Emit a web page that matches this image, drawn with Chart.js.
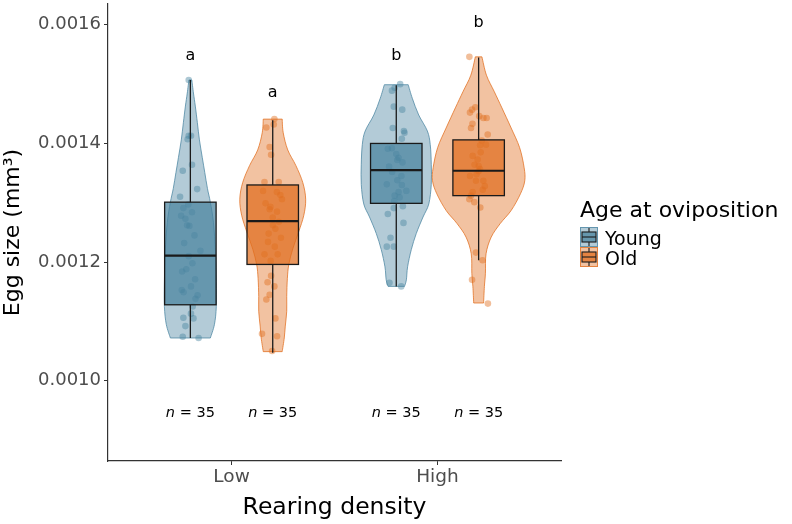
<!DOCTYPE html>
<html>
<head>
<meta charset="utf-8">
<script src="https://cdn.jsdelivr.net/npm/chart.js@4.4.1/dist/chart.umd.min.js"></script>
<style>
  html, body { margin: 0; padding: 0; background: #fff; }
</style>
</head>
<body>
<canvas id="chart" width="792" height="524"></canvas>
<script>
// categories and groups
const categories = ['Low', 'High'];
const groups = ['Young', 'Old'];
const yTicks = [0.0010, 0.0012, 0.0014, 0.0016];

// box stats per category: [lower whisker, q1, median, q3, upper whisker]
const youngBox = [
  [0.001072, 0.001128, 0.001211, 0.001301, 0.001507],
  [0.001159, 0.001299, 0.001355, 0.001400, 0.001498]
];
const oldBox = [
  [0.001047, 0.001196, 0.001269, 0.001330, 0.001439],
  [0.001203, 0.001312, 0.001354, 0.001406, 0.001545]
];

// violin outlines: [value, half width (share of category)]
const youngLowViolin = [[0.001507,0.007],[0.001485,0.015],[0.001463,0.024],[0.001435,0.034],[0.001406,0.044],[0.001376,0.058],[0.001351,0.070],[0.001324,0.083],[0.001301,0.097],[0.001267,0.112],[0.001217,0.122],[0.001167,0.126],[0.001125,0.126],[0.001095,0.117],[0.001072,0.097]];
const oldLowViolin = [[0.001441,0.046],[0.001418,0.051],[0.001389,0.073],[0.001363,0.112],[0.001334,0.146],[0.001306,0.160],[0.001279,0.151],[0.001251,0.126],[0.001222,0.097],[0.001196,0.078],[0.001172,0.071],[0.001142,0.068],[0.001117,0.068],[0.001092,0.061],[0.001072,0.056],[0.001049,0.046]];
const youngHighViolin = [[0.001499,0.058],[0.001476,0.078],[0.001448,0.109],[0.001421,0.151],[0.001398,0.165],[0.001365,0.170],[0.001331,0.170],[0.001298,0.158],[0.001276,0.130],[0.001248,0.097],[0.001221,0.073],[0.001192,0.055],[0.001170,0.049],[0.001159,0.040]];
const oldHighViolin = [[0.001546,0.016],[0.001515,0.038],[0.001488,0.075],[0.001460,0.113],[0.001426,0.158],[0.001393,0.199],[0.001359,0.221],[0.001337,0.224],[0.001315,0.203],[0.001287,0.158],[0.001265,0.105],[0.001242,0.061],[0.001214,0.036],[0.001181,0.033],[0.001159,0.028],[0.001131,0.024]];

// jittered eggs: [jitter, egg size]
const youngLowPts = [[-0.008,0.001507],[-0.008,0.001413],[0.003,0.001413],[-0.013,0.001407],[0.008,0.001364],[-0.037,0.001354],[0.033,0.001323],[-0.050,0.001310],[-0.034,0.001291],[0.008,0.001284],[-0.024,0.001273],[-0.016,0.001262],[-0.005,0.001261],[0.049,0.001219],[-0.008,0.001210],[-0.040,0.001184],[0.023,0.001171],[0.003,0.001159],[-0.042,0.001153],[-0.033,0.001149],[0.011,0.001125],[0.003,0.001113],[-0.034,0.001106],[0.015,0.001105],[-0.024,0.001092],[-0.037,0.001074],[0.040,0.001072],[0.020,0.001245],[-0.030,0.001232],[0.010,0.001198],[-0.045,0.001278],[0.035,0.001144],[-0.010,0.001297],[0.025,0.001138],[-0.020,0.001188]];
const oldLowPts = [[0.008,0.001441],[-0.031,0.001427],[0.005,0.001432],[-0.015,0.001394],[-0.008,0.001381],[-0.040,0.001335],[0.029,0.001335],[-0.047,0.001320],[0.037,0.001313],[0.045,0.001306],[-0.011,0.001293],[0.021,0.001285],[-0.015,0.001289],[0.001,0.001262],[0.013,0.001256],[-0.023,0.001234],[-0.040,0.001213],[0.024,0.001213],[-0.008,0.001177],[0.008,0.001159],[-0.015,0.001145],[-0.031,0.001137],[0.013,0.001105],[-0.052,0.001079],[0.021,0.001075],[-0.003,0.001050],[0.030,0.001268],[-0.020,0.001248],[0.010,0.001226],[-0.035,0.001299],[0.040,0.001241],[0.000,0.001275],[-0.010,0.001202],[0.020,0.001318],[-0.025,0.001166]];
const youngHighPts = [[0.019,0.001500],[-0.021,0.001489],[-0.008,0.001494],[-0.012,0.001462],[0.029,0.001457],[-0.017,0.001426],[0.037,0.001421],[0.040,0.001418],[0.027,0.001408],[-0.041,0.001391],[-0.021,0.001392],[0.000,0.001382],[0.011,0.001376],[0.005,0.001372],[-0.046,0.001331],[0.027,0.001330],[0.049,0.001320],[0.011,0.001318],[-0.008,0.001312],[0.016,0.001309],[-0.012,0.001291],[0.032,0.001294],[-0.041,0.001281],[0.035,0.001266],[-0.028,0.001241],[-0.046,0.001226],[-0.012,0.001226],[-0.033,0.001165],[0.024,0.001159],[-0.020,0.001352],[0.025,0.001345],[-0.035,0.001361],[0.005,0.001338],[0.030,0.001368],[-0.010,0.001303]];
const oldHighPts = [[-0.045,0.001546],[-0.016,0.001461],[-0.032,0.001457],[-0.042,0.001452],[0.003,0.001446],[0.023,0.001443],[0.039,0.001443],[-0.037,0.001426],[0.044,0.001415],[0.007,0.001397],[0.036,0.001398],[-0.029,0.001379],[-0.005,0.001373],[0.007,0.001357],[0.000,0.001353],[-0.042,0.001345],[-0.013,0.001337],[0.023,0.001337],[-0.029,0.001318],[-0.037,0.001312],[-0.045,0.001306],[-0.021,0.001301],[0.008,0.001292],[-0.013,0.001216],[0.019,0.001203],[-0.032,0.001170],[0.045,0.001130],[0.010,0.001385],[-0.020,0.001364],[0.030,0.001328],[-0.010,0.001348],[0.015,0.001405],[-0.030,0.001433],[0.020,0.001322],[0.000,0.001362]];

// significance letters and their heights, sample sizes
const youngLetters = ['a', 'b'];
const oldLetters = ['a', 'b'];
const youngLetterY = [0.001548, 0.001548];
const oldLetterY = [0.001486, 0.001603];
const youngN = [35, 35];
const oldN = [35, 35];
const nLabelY = 0.000945;

const DODGE = 0.2;
const BOX_W = 0.25;
const FONT = 'DejaVu Sans';
const youngRGB = '74,132,160';
const oldRGB = '225,110,30';

const series = [
  { name: 'Young', rgb: youngRGB, off: -DODGE, box: youngBox, violins: [youngLowViolin, youngHighViolin],
    pts: [youngLowPts, youngHighPts], letters: youngLetters, letterY: youngLetterY, n: youngN },
  { name: 'Old', rgb: oldRGB, off: DODGE, box: oldBox, violins: [oldLowViolin, oldHighViolin],
    pts: [oldLowPts, oldHighPts], letters: oldLetters, letterY: oldLetterY, n: oldN }
];

function smooth(ctx, pts, first) {
  for (let i = 0; i < pts.length; i++) {
    if (i === 0) {
      if (first) ctx.moveTo(pts[0][0], pts[0][1]); else ctx.lineTo(pts[0][0], pts[0][1]);
      continue;
    }
    const p0 = pts[i - 2] || pts[i - 1], p1 = pts[i - 1], p2 = pts[i], p3 = pts[i + 1] || pts[i];
    ctx.bezierCurveTo(
      p1[0] + (p2[0] - p0[0]) / 6, p1[1] + (p2[1] - p0[1]) / 6,
      p2[0] - (p3[0] - p1[0]) / 6, p2[1] - (p3[1] - p1[1]) / 6,
      p2[0], p2[1]);
  }
}

const violinBox = {
  id: 'violinBox',
  beforeDatasetsDraw(chart) {
    const { ctx, scales: { x, y } } = chart;
    ctx.save();
    series.forEach(s => {
      s.violins.forEach((v, ci) => {
        const c = ci + 1 + s.off;
        const right = v.map(d => [x.getPixelForValue(c + d[1]), y.getPixelForValue(d[0])]);
        const left = v.map(d => [x.getPixelForValue(c - d[1]), y.getPixelForValue(d[0])]).reverse();
        ctx.beginPath();
        smooth(ctx, right, true);
        smooth(ctx, left, false);
        ctx.closePath();
        ctx.fillStyle = `rgba(${s.rgb},0.42)`;
        ctx.fill();
        ctx.strokeStyle = `rgba(${s.rgb},0.75)`;
        ctx.lineWidth = 1;
        ctx.stroke();
      });
    });
    ctx.restore();
  },
  afterDatasetsDraw(chart) {
    const { ctx, scales: { x, y } } = chart;
    ctx.save();
    series.forEach(s => {
      s.box.forEach((b, ci) => {
        const c = ci + 1 + s.off;
        const cx = x.getPixelForValue(c);
        const x0 = x.getPixelForValue(c - BOX_W / 2), x1 = x.getPixelForValue(c + BOX_W / 2);
        const [lo, q1, med, q3, hi] = b.map(v => y.getPixelForValue(v));
        ctx.strokeStyle = '#1a1a1a';
        ctx.lineWidth = 1.3;
        ctx.beginPath();
        ctx.moveTo(cx, hi); ctx.lineTo(cx, q3);
        ctx.moveTo(cx, q1); ctx.lineTo(cx, lo);
        ctx.stroke();
        ctx.fillStyle = `rgba(${s.rgb},0.72)`;
        ctx.fillRect(x0, q3, x1 - x0, q1 - q3);
        ctx.strokeRect(x0, q3, x1 - x0, q1 - q3);
        ctx.lineWidth = 2.2;
        ctx.beginPath();
        ctx.moveTo(x0, med); ctx.lineTo(x1, med);
        ctx.stroke();
      });
    });
    ctx.restore();
  },
  afterDraw(chart) {
    const { ctx, scales: { x, y } } = chart;
    ctx.save();
    ctx.fillStyle = '#000';
    ctx.textBaseline = 'middle';
    series.forEach(s => {
      categories.forEach((cat, ci) => {
        const cx = x.getPixelForValue(ci + 1 + s.off);
        ctx.textAlign = 'center';
        ctx.font = `16px "${FONT}"`;
        ctx.fillText(s.letters[ci], cx, y.getPixelForValue(s.letterY[ci]));
        // n = 35 with italic n
        const ny = y.getPixelForValue(nLabelY);
        ctx.font = `italic 14.5px "${FONT}"`;
        const a = 'n';
        const wa = ctx.measureText(a).width;
        ctx.font = `14.5px "${FONT}"`;
        const b = ' = ' + s.n[ci];
        const wb = ctx.measureText(b).width;
        const start = cx - (wa + wb) / 2;
        ctx.textAlign = 'left';
        ctx.font = `italic 14.5px "${FONT}"`;
        ctx.fillText(a, start, ny);
        ctx.font = `14.5px "${FONT}"`;
        ctx.fillText(b, start + wa, ny);
      });
    });

    // legend
    const lx = chart.chartArea.right + 19;
    ctx.textAlign = 'left';
    ctx.textBaseline = 'alphabetic';
    ctx.font = `22px "${FONT}"`;
    ctx.fillText('Age at oviposition', lx, 216.5);
    series.forEach((s, i) => {
      const ky = 227 + i * 20;
      const kw = 18, kh = 20;
      ctx.fillStyle = `rgba(${s.rgb},0.42)`;
      ctx.fillRect(lx, ky, kw, kh);
      ctx.strokeStyle = `rgba(${s.rgb},0.75)`;
      ctx.lineWidth = 1;
      ctx.strokeRect(lx + 0.5, ky + 0.5, kw - 1, kh - 1);
      ctx.strokeStyle = '#1a1a1a';
      ctx.lineWidth = 1.1;
      ctx.beginPath();
      ctx.moveTo(lx + kw / 2, ky + 1); ctx.lineTo(lx + kw / 2, ky + 5);
      ctx.moveTo(lx + kw / 2, ky + kh - 5); ctx.lineTo(lx + kw / 2, ky + kh - 1);
      ctx.stroke();
      ctx.fillStyle = `rgba(${s.rgb},0.72)`;
      ctx.fillRect(lx + 2, ky + 5, kw - 4, kh - 10);
      ctx.strokeRect(lx + 2, ky + 5, kw - 4, kh - 10);
      ctx.beginPath();
      ctx.moveTo(lx + 2, ky + kh / 2); ctx.lineTo(lx + kw - 2, ky + kh / 2);
      ctx.stroke();
      ctx.fillStyle = '#000';
      ctx.font = `19px "${FONT}"`;
      ctx.fillText(s.name, lx + 25, ky + 18);
    });
    ctx.restore();
  }
};

const datasets = series.map(s => ({
  label: s.name,
  data: s.pts.flatMap((list, ci) => list.map(p => ({ x: ci + 1 + s.off + p[0], y: p[1] }))),
  backgroundColor: `rgba(${s.rgb},0.45)`,
  borderWidth: 0,
  pointRadius: 3.3
}));

new Chart(document.getElementById('chart').getContext('2d'), {
  type: 'scatter',
  data: { datasets },
  options: {
    responsive: false,
    animation: false,
    devicePixelRatio: 1,
    layout: { padding: { left: 0, right: 231, top: 0, bottom: 0 } },
    plugins: { legend: { display: false }, tooltip: { enabled: false } },
    scales: {
      x: {
        type: 'linear', min: 0.4, max: 2.6,
        afterBuildTicks: sc => { sc.ticks = categories.map((c, i) => ({ value: i + 1 })); },
        afterFit: sc => { sc.height = 63; sc.paddingLeft = 0; sc.paddingRight = 0; },
        ticks: { callback: v => categories[Math.round(v) - 1], color: '#4d4d4d', font: { family: FONT, size: 18.5 }, padding: 1, maxRotation: 0 },
        grid: { drawOnChartArea: false, tickLength: 4, color: '#333' },
        border: { color: '#333', width: 1.2 },
        title: { display: true, text: 'Rearing density', color: '#000', font: { family: FONT, size: 23.5 }, padding: { top: 0, bottom: 2 } }
      },
      y: {
        type: 'linear', min: 0.0008646, max: 0.0016351,
        afterBuildTicks: sc => { sc.ticks = yTicks.map(v => ({ value: v })); },
        afterFit: sc => { sc.width = 108; sc.paddingTop = 0; sc.paddingBottom = 0; },
        ticks: { callback: v => v.toFixed(4), color: '#4d4d4d', font: { family: FONT, size: 18 }, padding: 3 },
        grid: { drawOnChartArea: false, tickLength: 4, color: '#333' },
        border: { color: '#333', width: 1.2 },
        title: { display: true, text: 'Egg size (mm³)', color: '#000', font: { family: FONT, size: 22 }, padding: { top: 0, bottom: 0 } }
      }
    }
  },
  plugins: [violinBox]
});
</script>
</body>
</html>
